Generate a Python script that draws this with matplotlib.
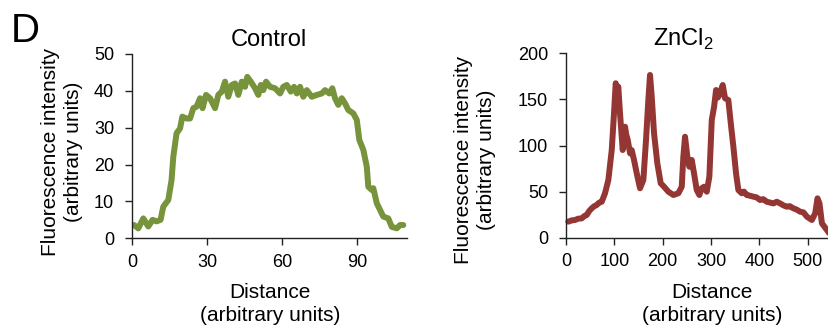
"""Panel D: fluorescence line profiles, Control vs ZnCl2."""
import matplotlib; matplotlib.use('Agg')
import matplotlib.pyplot as plt

plt.rcParams.update({
    'font.family': ['Liberation Sans', 'DejaVu Sans'],
    'mathtext.fontset': 'custom',
    'mathtext.rm': 'Liberation Sans',
    'axes.linewidth': 1.0,
})

# Control profile (distance, intensity)
ctrl_x = [0.7, 2.4, 4.4, 6.4, 8.1, 9.7, 11.3, 12.4, 14.4, 15.7, 16.4, 17.7, 19.1,
          20.0, 21.7, 23.1, 24.4, 25.7, 27.1, 28.1, 29.5, 31.1, 33.1, 34.4, 35.8,
          37.1, 38.4, 39.8, 41.1, 42.4, 43.8, 45.1, 46.0, 47.4, 49.1, 50.4, 51.4,
          52.4, 53.5, 55.1, 57.1, 59.1, 60.4, 61.8, 63.4, 64.7, 65.8, 67.1, 68.4,
          69.8, 71.8, 73.8, 75.8, 77.1, 78.8, 80.0, 81.1, 82.4, 83.8, 85.1, 86.4,
          88.4, 89.8, 90.8, 92.4, 93.8, 94.4, 95.8, 96.4, 97.8, 99.1, 100.4, 102.4,
          103.8, 105.8, 107.1, 108.4]
ctrl_y = [3.6, 2.7, 5.4, 3.2, 5.0, 4.6, 5.0, 8.6, 10.4, 15.8, 22.1, 28.5, 29.8,
          33.0, 32.5, 32.5, 35.3, 35.7, 38.0, 35.3, 38.9, 38.0, 35.3, 38.9, 39.8,
          42.5, 38.4, 41.6, 42.0, 38.9, 42.5, 41.1, 43.8, 42.5, 40.7, 38.9, 41.6,
          40.2, 42.5, 41.1, 40.7, 39.3, 41.1, 41.6, 39.8, 41.1, 39.3, 41.1, 38.4,
          40.2, 38.4, 38.9, 39.3, 40.2, 39.3, 40.7, 38.0, 36.2, 38.0, 36.6, 34.8,
          33.9, 32.1, 26.7, 24.0, 19.4, 14.0, 13.1, 13.6, 9.5, 7.7, 5.9, 5.4,
          3.1, 2.7, 3.6, 3.6]

# ZnCl2 profile (distance, intensity)
zn_x = [4.8, 12.0, 18.6, 25.0, 32.5, 38.0, 42.8, 48.0, 53.2, 58.0, 63.5, 68.0,
        73.9, 80.7, 87.6, 94.6, 99.3, 102.8, 105.5,
        108.2, 111.7, 117.3, 122.1, 124.5, 127.7, 132.5, 135.9, 140.7, 146.3, 153.1,
        160.0, 165.5, 170.3, 173.8, 177.3, 182.1, 188.9, 195.9, 202.8, 211.7,
        222.1, 232.4, 239.4, 242.7, 246.2, 251.0, 255.1, 260.1, 264.8, 270.4,
        275.8, 280.7, 285.5, 291.1, 296.5, 301.5, 306.3, 310.4, 314.0, 317.2, 320.5,
        324.2, 329.0, 335.8, 340.8, 346.2, 351.7, 356.5, 363.5, 368.0, 373.9, 380.0,
        387.6, 394.0, 401.4, 408.0, 415.3, 422.0, 429.0, 436.0, 442.8, 450.0,
        456.7, 463.0, 470.4, 477.0, 484.3, 491.0, 498.2, 508.5, 515.4, 520.2,
        524.4, 529.3, 539.6, 544.4]
zn_y = [17.4, 18.8, 19.2, 20.6, 21.0, 23.5, 24.6, 28.9, 31.9, 34.0, 35.5, 37.8,
        39.0, 48.2, 62.6, 95.1, 134.9, 167.5, 159.0,
        163.8, 135.0, 95.1, 120.4, 112.0, 106.0, 91.5, 95.0, 84.3, 69.8, 53.6,
        62.6, 106.0, 149.3, 176.5, 153.0, 113.2, 80.7, 59.0, 55.3, 49.9,
        46.3, 48.2, 55.3, 87.9, 109.5, 87.9, 77.0, 84.3, 69.8, 51.7,
        46.3, 53.6, 55.3, 49.9, 66.2, 127.7, 142.1, 160.2, 152.0, 154.8, 160.0,
        165.6, 151.2, 149.3, 124.1, 98.7, 69.8, 51.7, 48.2, 50.0, 46.3, 45.6,
        44.5, 43.8, 40.9, 41.8, 39.0, 38.1, 37.2, 39.0, 37.2, 35.0,
        33.6, 34.2, 31.8, 30.5, 28.2, 27.5, 22.8, 19.2, 26.5, 42.7,
        37.0, 15.6, 8.4, 4.8]

ctrl_ticks = [0, 30, 60, 90]
ctrl_yticks = [0, 10, 20, 30, 40, 50]
zn_ticks = [0, 100, 200, 300, 400, 500]
zn_yticks = [0, 50, 100, 150, 200]

W, H = 829, 333
fig = plt.figure(figsize=(W / 100, H / 100), dpi=100)
fig.patch.set_facecolor('white')


def px(x0, y_top, x1, y_bot):
    return [x0 / W, 1 - y_bot / H, (x1 - x0) / W, (y_bot - y_top) / H]


ax1 = fig.add_axes(px(132.3, 54.0, 407.3, 238.3))
ax2 = fig.add_axes(px(566.0, 53.3, 829.5, 237.7))

ax1.plot(ctrl_x, ctrl_y, color='#77933C', lw=4.3, solid_capstyle='round', solid_joinstyle='round')
ax1.set_xlim(0, 110)
ax1.set_ylim(0, 50)
ax1.set_xticks(ctrl_ticks)
ax1.set_yticks(ctrl_yticks)

ax2.plot(zn_x, zn_y, color='#943634', lw=4.3, solid_capstyle='round', solid_joinstyle='round', clip_on=False)
ax2.set_xlim(0, 545)
ax2.set_ylim(0, 200)
ax2.set_xticks(zn_ticks)
ax2.set_yticks(zn_yticks)

for ax in (ax1, ax2):
    for s in ('top', 'right'):
        ax.spines[s].set_visible(False)
    for s in ('left', 'bottom'):
        ax.spines[s].set_color('#222222')
    ax.tick_params(direction='out', length=5, width=1, color='#222222', labelsize=13)
    ax.tick_params(axis='x', pad=6)
    ax.tick_params(axis='y', pad=8)

# titles
fig.text(0.3245, 1 - 45.7 / H, 'Control', fontsize=17, ha='center', va='baseline')
fig.text(0.824, 1 - 45.7 / H, r'ZnCl$_\mathregular{2}$', fontsize=17, ha='center', va='baseline')

# axis labels
ylab = 'Fluorescence intensity\n(arbitrary units)'
xlab = 'Distance\n(arbitrary units)'
fig.text(62 / W, 1 - 152 / H, ylab, fontsize=15, rotation=90, ha='center', va='center',
         linespacing=1.3)
fig.text(475 / W, 1 - 160 / H, ylab, fontsize=15, rotation=90, ha='center', va='center',
         linespacing=1.3)
fig.text(270 / W, 1 - 304 / H, xlab, fontsize=15, ha='center', va='center', linespacing=1.3)
fig.text(712 / W, 1 - 304 / H, xlab, fontsize=15, ha='center', va='center', linespacing=1.3)

# panel letter
fig.text(11 / W, 1 - 41.7 / H, 'D', fontsize=29, ha='left', va='baseline')

fig.savefig('out.png', dpi=100)
plt.close()
